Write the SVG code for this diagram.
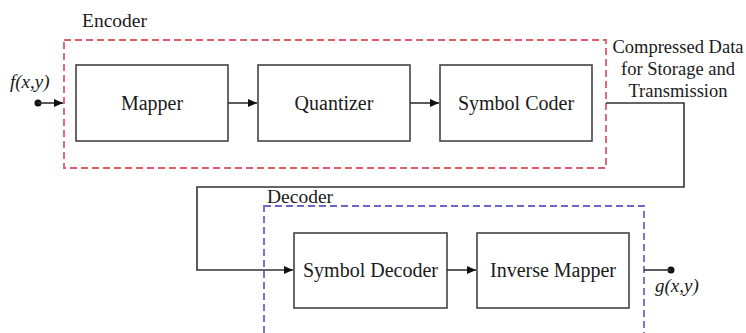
<svg xmlns="http://www.w3.org/2000/svg" width="746" height="333" viewBox="0 0 746 333">
<defs>
<marker id="ah" markerWidth="9" markerHeight="8" refX="9" refY="4" orient="auto" markerUnits="userSpaceOnUse">
<path d="M0,0 L9,4 L0,8 Z" fill="#111"/>
</marker>
</defs>
<rect width="746" height="333" fill="#fff"/>
<g id="encoder">
<rect x="64" y="40" width="542" height="128" fill="none" stroke="#e05a68" stroke-width="1.8" stroke-dasharray="7 4"/>
<text x="82" y="27" fill="#1a1a1a" font-family="Liberation Serif" font-size="19.5">Encoder</text>
</g>
<g id="decoder">
<rect x="264" y="206" width="380" height="140" fill="none" stroke="#6a66cc" stroke-width="1.8" stroke-dasharray="7 4"/>
<text x="267" y="203" fill="#1a1a1a" font-family="Liberation Serif" font-size="19.5">Decoder</text>
</g>
<g id="mapper"><rect x="76" y="65" width="152" height="76" fill="#fff" stroke="#444" stroke-width="1.6"/><text x="152" y="110" fill="#1a1a1a" text-anchor="middle" font-family="Liberation Serif" font-size="20">Mapper</text></g>
<g id="quantizer"><rect x="258" y="65" width="152" height="76" fill="#fff" stroke="#444" stroke-width="1.6"/><text x="334" y="110" fill="#1a1a1a" text-anchor="middle" font-family="Liberation Serif" font-size="20">Quantizer</text></g>
<g id="symbolcoder"><rect x="440" y="65" width="152" height="76" fill="#fff" stroke="#444" stroke-width="1.6"/><text x="516" y="110" fill="#1a1a1a" text-anchor="middle" font-family="Liberation Serif" font-size="20">Symbol Coder</text></g>
<g id="symboldecoder"><rect x="294" y="233" width="153" height="75" fill="#fff" stroke="#444" stroke-width="1.6"/><text x="370.5" y="277" fill="#1a1a1a" text-anchor="middle" font-family="Liberation Serif" font-size="20">Symbol Decoder</text></g>
<g id="inversemapper"><rect x="477" y="233" width="152" height="75" fill="#fff" stroke="#444" stroke-width="1.6"/><text x="553" y="277" fill="#1a1a1a" text-anchor="middle" font-family="Liberation Serif" font-size="20">Inverse Mapper</text></g>
<g id="input">
<circle cx="38" cy="103" r="3.5" fill="#111"/>
<text x="10" y="88" fill="#1a1a1a" font-family="Liberation Serif" font-size="19" font-style="italic">f(x,y)</text>
</g>
<g id="output">
<circle cx="671" cy="270" r="3.5" fill="#111"/>
<text x="655" y="292" fill="#1a1a1a" font-family="Liberation Serif" font-size="19" font-style="italic">g(x,y)</text>
</g>
<g id="compressed">
<text x="678" y="53" fill="#1a1a1a" text-anchor="middle" font-family="Liberation Serif" font-size="18.5">Compressed Data</text>
<text x="678" y="75" fill="#1a1a1a" text-anchor="middle" font-family="Liberation Serif" font-size="18.5">for Storage and</text>
<text x="678" y="97" fill="#1a1a1a" text-anchor="middle" font-family="Liberation Serif" font-size="18.5">Transmission</text>
</g>
<g id="connectors" fill="none" stroke="#333" stroke-width="1.6">
<path d="M38,103 H63" marker-end="url(#ah)"/>
<path d="M228,103 H257" marker-end="url(#ah)"/>
<path d="M410,103 H439" marker-end="url(#ah)"/>
<path d="M606,103 H684 V187 H197 V270 H293" marker-end="url(#ah)"/>
<path d="M447,270 H476" marker-end="url(#ah)"/>
<path d="M644,270 H671"/>
</g>
</svg>
